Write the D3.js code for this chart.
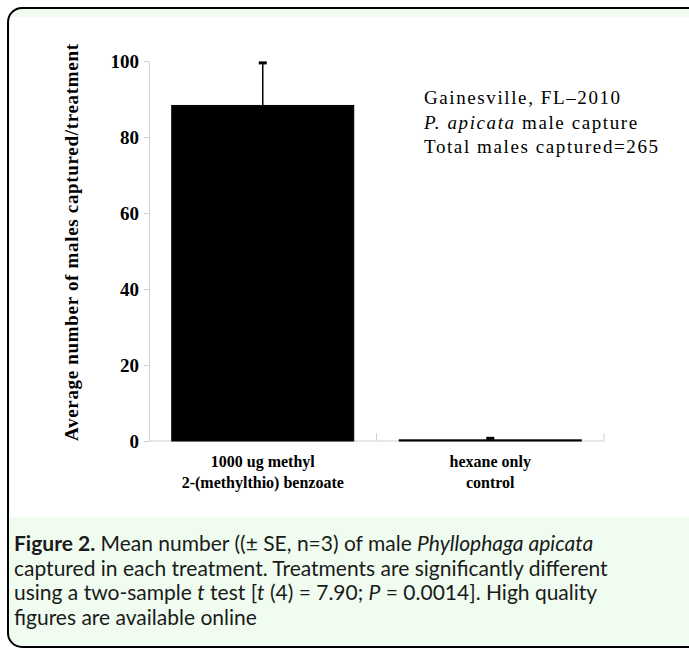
<!DOCTYPE html>
<html>
<head>
<meta charset="utf-8">
<script src="https://cdn.jsdelivr.net/npm/d3@7"></script>
<style>
  body { margin: 0; background: #fff; }
  svg { display: block; }
</style>
</head>
<body>
<div id="chart"></div>
<script>
// chart data
const categories = ["1000 ug methyl|2-(methylthio) benzoate", "hexane only|control"];
const means = [88.3, 0.3];
const errors = [11.2, 0.4];
const yTicks = [0, 20, 40, 60, 80, 100];
const yTitle = "Average number of males captured/treatment";
const noteLines = [
    [{ t: "Gainesville, FL\u20132010" }],
    [{ t: "P. apicata", i: true }, { t: " male capture" }],
    [{ t: "Total males captured=265" }]
];
const captionLines = [
    [{ t: "Figure 2.", b: true }, { t: " Mean number ((\u00b1 SE, n=3) of male " }, { t: "Phyllophaga apicata", i: true }],
    [{ t: "captured in each treatment. Treatments are significantly different" }],
    [{ t: "using a two-sample " }, { t: "t", i: true }, { t: " test [" }, { t: "t", i: true }, { t: " (4) = 7.90; " }, { t: "P", i: true }, { t: " = 0.0014]. High quality" }],
    [{ t: "figures are available online" }]
];

const W = 689, H = 650;
const serif = "'Liberation Serif', 'Times New Roman', serif";

const svg = d3.select('#chart').append('svg')
    .attr('width', W)
    .attr('height', H);

// panel frame
svg.append('rect')
    .attr('x', 8).attr('y', 8)
    .attr('width', 720).attr('height', 639)
    .attr('rx', 14)
    .attr('fill', '#effcef')
    .attr('stroke', '#000')
    .attr('stroke-width', 2);

svg.append('rect')
    .attr('x', 10).attr('y', 17)
    .attr('width', W - 10).attr('height', 500)
    .attr('fill', '#fff');

// scales
const x = d3.scaleBand()
    .domain(categories)
    .range([149, 604])
    .paddingInner(0.2)
    .paddingOuter(0.1);

const y = d3.scaleLinear()
    .domain([0, 100])
    .range([441, 61]);

const data = categories.map((c, i) => ({ cat: c, mean: means[i], se: errors[i] }));

// y axis
const yAxis = svg.append('g')
    .attr('transform', `translate(${x.range()[0]},0)`)
    .call(d3.axisLeft(y).tickValues(yTicks).tickSize(5).tickSizeOuter(0).tickPadding(5));
yAxis.select('.domain').attr('stroke', '#cfcfcf');
yAxis.selectAll('.tick line').attr('stroke', '#cfcfcf');
yAxis.selectAll('.tick text')
    .attr('fill', '#000')
    .attr('font-family', serif)
    .attr('font-weight', 'bold')
    .attr('font-size', '19px');

// x baseline with ticks at category boundaries
const [x0, x1] = x.range();
svg.append('line')
    .attr('x1', x0).attr('x2', x1)
    .attr('y1', y(0)).attr('y2', y(0))
    .attr('stroke', '#cfcfcf');

const bounds = categories.map((c, i) => i < categories.length - 1
    ? (x(c) + x.bandwidth() + x(categories[i + 1])) / 2
    : x1);
svg.selectAll('.xtick')
    .data(bounds)
    .enter()
    .append('line')
    .attr('class', 'xtick')
    .attr('x1', d => d).attr('x2', d => d)
    .attr('y1', y(0)).attr('y2', y(0) - 8)
    .attr('stroke', '#cfcfcf');

// bars
svg.selectAll('.bar')
    .data(data)
    .enter()
    .append('rect')
    .attr('class', 'bar')
    .attr('x', d => x(d.cat))
    .attr('y', d => y(d.mean))
    .attr('width', x.bandwidth())
    .attr('height', d => y(0) - y(d.mean))
    .attr('fill', '#000')
    .attr('stroke', '#000')
    .attr('stroke-width', 1);

// error bars
const err = svg.selectAll('.err')
    .data(data)
    .enter()
    .append('g')
    .attr('class', 'err');
err.append('line')
    .attr('x1', d => x(d.cat) + x.bandwidth() / 2)
    .attr('x2', d => x(d.cat) + x.bandwidth() / 2)
    .attr('y1', d => y(d.mean))
    .attr('y2', d => y(d.mean + d.se))
    .attr('stroke', '#000')
    .attr('stroke-width', 1.5);
err.append('line')
    .attr('x1', d => x(d.cat) + x.bandwidth() / 2 - 4)
    .attr('x2', d => x(d.cat) + x.bandwidth() / 2 + 4)
    .attr('y1', d => y(d.mean + d.se))
    .attr('y2', d => y(d.mean + d.se))
    .attr('stroke', '#000')
    .attr('stroke-width', 3);

// category labels
const catLabels = svg.selectAll('.cat')
    .data(categories)
    .enter()
    .append('text')
    .attr('class', 'cat')
    .attr('text-anchor', 'middle')
    .attr('font-family', serif)
    .attr('font-weight', 'bold')
    .attr('font-size', '16px')
    .attr('fill', '#000');
catLabels.selectAll('tspan')
    .data(d => d.split('|').map(s => ({ s, cx: x(d) + x.bandwidth() / 2 })))
    .enter()
    .append('tspan')
    .attr('x', d => d.cx)
    .attr('y', (d, i) => 467 + i * 21)
    .text(d => d.s);

// y axis title
svg.append('text')
    .attr('transform', `translate(78,${(44 + 441) / 2}) rotate(-90)`)
    .attr('text-anchor', 'middle')
    .attr('font-family', serif)
    .attr('font-weight', 'bold')
    .attr('font-size', '19px')
    .attr('textLength', 397)
    .attr('lengthAdjust', 'spacing')
    .attr('fill', '#000')
    .text(yTitle);

// note text
const note = svg.append('text')
    .attr('font-family', serif)
    .attr('font-size', '19px')
    .attr('letter-spacing', '1.6px')
    .attr('fill', '#000');
noteLines.forEach((line, i) => {
    line.forEach((seg, j) => {
        const ts = note.append('tspan').text(seg.t);
        if (j === 0) ts.attr('x', 424).attr('y', 104 + i * 24.5);
        if (seg.i) ts.attr('font-style', 'italic');
    });
});

// caption
const cap = svg.append('text')
    .attr('font-family', "Lato, 'Open Sans', sans-serif")
    .attr('font-size', '21px')
    .attr('fill', '#1a1a1a');
captionLines.forEach((line, i) => {
    line.forEach((seg, j) => {
        const ts = cap.append('tspan').text(seg.t);
        if (j === 0) ts.attr('x', 14).attr('y', 551 + i * 24.5);
        if (seg.i) ts.attr('font-style', 'italic');
        if (seg.b) ts.attr('font-weight', 'bold');
    });
});
</script>
</body>
</html>
